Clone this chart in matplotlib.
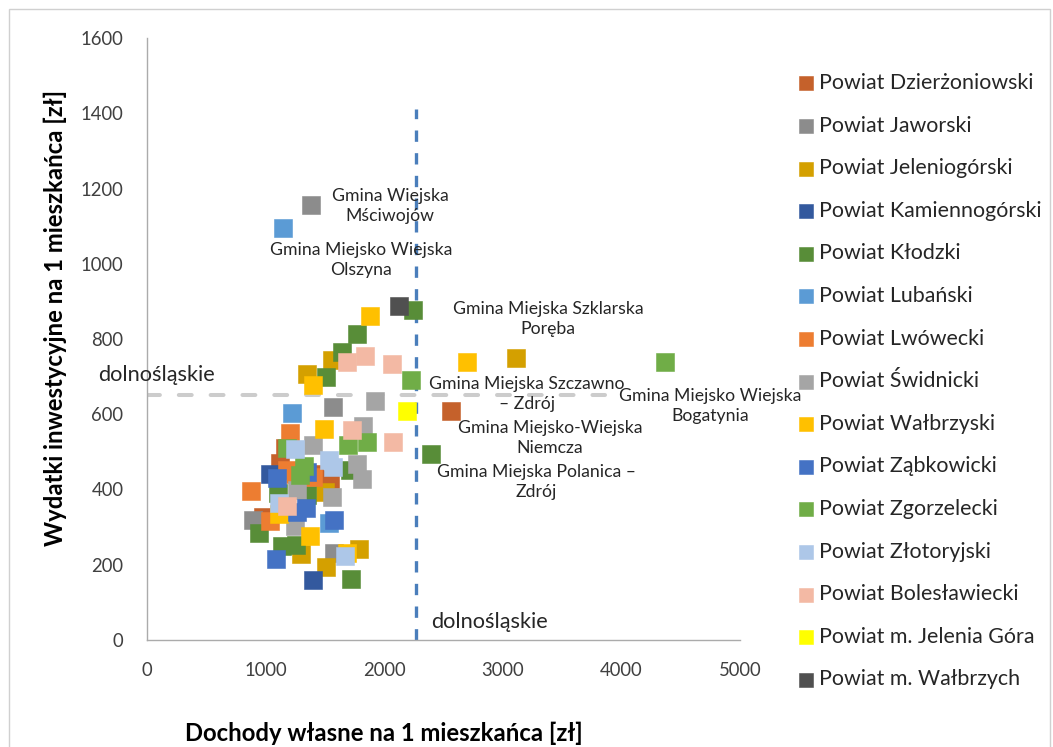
import matplotlib
matplotlib.use("Agg")
import matplotlib.pyplot as plt
from matplotlib.patches import Rectangle

plt.rcParams["font.family"] = ["Lato", "DejaVu Sans"]

# ---------------- data ----------------
series_names = ["Powiat Dzierżoniowski", "Powiat Jaworski", "Powiat Jeleniogórski",
                "Powiat Kamiennogórski", "Powiat Kłodzki", "Powiat Lubański",
                "Powiat Lwówecki", "Powiat Świdnicki", "Powiat Wałbrzyski",
                "Powiat Ząbkowicki", "Powiat Zgorzelecki", "Powiat Złotoryjski",
                "Powiat Bolesławiecki", "Powiat m. Jelenia Góra", "Powiat m. Wałbrzych"]
colors = ["#C5612B", "#8C8C8C", "#D4A000", "#33599E", "#588D38", "#5B9BD5",
          "#ED7D31", "#A5A5A5", "#FFC000", "#4472C4", "#70AD47", "#ADC7E8",
          "#F3B9A4", "#FFFF00", "#505050"]

dzierzoniowski_x = [2563, 1164, 1543, 1121, 981, 1410]
dzierzoniowski_y = [609, 509, 427, 470, 328, 440]
jaworski_x = [1383, 1566, 897, 1579]
jaworski_y = [1156, 620, 319, 232]
jeleniogorski_x = [1557, 1352, 3111, 1501, 1296, 1790, 1513]
jeleniogorski_y = [744, 707, 750, 394, 229, 241, 195]
kamiennogorski_x = [1037, 1402]
kamiennogorski_y = [441, 159]
klodzki_x = [2243, 1771, 1641, 1506, 2395, 1712, 1107, 1346, 947, 1135, 1256, 1717]
klodzki_y = [877, 813, 766, 700, 494, 453, 390, 385, 285, 250, 252, 161]
lubanski_x = [1147, 1220, 1535]
lubanski_y = [1095, 604, 312]
lwowecki_x = [1206, 1177, 1402, 874, 1037, 1250]
lwowecki_y = [549, 453, 434, 396, 317, 440]
swidnicki_x = [1922, 1825, 1397, 1767, 1815, 1262, 1557, 1248]
swidnicki_y = [635, 569, 518, 468, 428, 400, 379, 303]
walbrzyski_x = [1880, 1402, 2695, 1492, 1116, 1374, 1689]
walbrzyski_y = [861, 678, 740, 561, 335, 276, 232]
zabkowicki_x = [1093, 1346, 1340, 1262, 1577, 1088]
zabkowicki_y = [430, 447, 352, 339, 320, 215]
zgorzelecki_x = [2226, 4367, 1852, 1691, 1177, 1324, 1290]
zgorzelecki_y = [691, 739, 525, 518, 509, 462, 438]
zlotoryjski_x = [1248, 1537, 1571, 1116, 1669]
zlotoryjski_y = [507, 478, 459, 365, 224]
boleslawiecki_x = [1689, 1838, 2063, 1731, 2077, 1183]
boleslawiecki_y = [740, 755, 734, 558, 527, 355]
jelenia_gora_x = [2192]
jelenia_gora_y = [609]
walbrzych_x = [2125]
walbrzych_y = [888]

xs = [dzierzoniowski_x, jaworski_x, jeleniogorski_x, kamiennogorski_x, klodzki_x,
      lubanski_x, lwowecki_x, swidnicki_x, walbrzyski_x, zabkowicki_x,
      zgorzelecki_x, zlotoryjski_x, boleslawiecki_x, jelenia_gora_x, walbrzych_x]
ys = [dzierzoniowski_y, jaworski_y, jeleniogorski_y, kamiennogorski_y, klodzki_y,
      lubanski_y, lwowecki_y, swidnicki_y, walbrzyski_y, zabkowicki_y,
      zgorzelecki_y, zlotoryjski_y, boleslawiecki_y, jelenia_gora_y, walbrzych_y]

avg_income = 2268      # dolnośląskie average own income
avg_invest = 651       # dolnośląskie average investment spending

annotations = [
    ("Gmina Wiejska\nMściwojów", 2049, 1153),
    ("Gmina Miejsko Wiejska\nOlszyna", 1804, 1011),
    ("Gmina Miejska Szklarska\nPoręba", 3381, 852),
    ("Gmina Miejska Szczawno\n– Zdrój", 3204, 654),
    ("Gmina Miejsko Wiejska\nBogatynia", 4750, 622),
    ("Gmina Miejsko-Wiejska\nNiemcza", 3398, 537),
    ("Gmina Miejska Polanica –\nZdrój", 3285, 420),
]

x_ticks = [0, 1000, 2000, 3000, 4000, 5000]
y_ticks = [0, 200, 400, 600, 800, 1000, 1200, 1400, 1600]

x_title = "Dochody własne na 1 mieszkańca [zł]"
y_title = "Wydatki inwestycyjne na 1 mieszkańca [zł]"

# ---------------- figure ----------------
W, H = 1053, 747
fig = plt.figure(figsize=(W / 100, H / 100), dpi=100)
fig.patch.set_facecolor("white")
renderer = fig.canvas.get_renderer()


def fit_size(txt, target_px, **kw):
    t = fig.text(0, 0, txt, fontsize=10, **kw)
    w = t.get_window_extent(renderer).width
    t.remove()
    return 10 * target_px / w


ann_fs = fit_size("Gmina Miejsko Wiejska", 182)
dol_fs = fit_size("dolnośląskie", 117)
tick_fs = fit_size("1600", 43)
title_fs = fit_size(x_title, 397, fontweight="bold")
leg_fs = fit_size("Powiat Dzierżoniowski", 214)

fig.patches.append(Rectangle((9 / W, -0.05), (W - 12) / W, 1.05 - 9 / H,
                             transform=fig.transFigure, fill=False,
                             edgecolor="#D0D0D0", linewidth=1.0))

ax = fig.add_axes([147 / W, 1 - 640 / H, (740 - 147) / W, (640 - 38) / H])
ax.set_xlim(0, 5000)
ax.set_ylim(0, 1600)

# reference lines
ax.plot([0, 3862], [avg_invest, avg_invest], color="#CCCCCC", lw=2.9,
        dashes=(3.2, 4.7), dash_capstyle="round", zorder=1)
ax.plot([avg_income, avg_income], [0, 1410], color="#4A7EBB", lw=2.4,
        dashes=(3.4, 3.4), zorder=1)

for name, c, x, y in zip(series_names, colors, xs, ys):
    ax.scatter(x, y, s=150, marker="s", color=c, edgecolors=c, linewidths=0.4,
               label=name, zorder=3)

for txt, x, y in annotations:
    ax.text(x, y, txt, ha="center", va="center", fontsize=ann_fs, color="#262626",
            linespacing=1.3, zorder=4, clip_on=False)

ax.text(80, 704, "dolnośląskie", ha="center", va="center", fontsize=dol_fs,
        color="#262626", clip_on=False)
ax.text(2888, 49, "dolnośląskie", ha="center", va="center", fontsize=dol_fs,
        color="#262626")

ax.set_xticks(x_ticks)
ax.set_yticks(y_ticks)
ax.tick_params(length=0, labelsize=tick_fs, colors="#404040")
ax.tick_params(axis="y", pad=17)
ax.tick_params(axis="x", pad=16)
for s in ["top", "right"]:
    ax.spines[s].set_visible(False)
for s in ["left", "bottom"]:
    ax.spines[s].set_color("#ABABAB")
    ax.spines[s].set_linewidth(1.0)

fig.text(55 / W, 1 - 318 / H, y_title, rotation=90, ha="center", va="center",
         fontsize=title_fs, fontweight="bold", color="#000000")
fig.text(384 / W, 1 - 733 / H, x_title, ha="center", va="center",
         fontsize=title_fs, fontweight="bold", color="#000000")

# legend: place, then measure and correct spacing / position
leg_kw = dict(loc="upper left", frameon=False, fontsize=leg_fs, markerscale=0.88,
              handletextpad=0.15, handlelength=0.9, borderaxespad=0, borderpad=0)
ls = 1.2
x0, y0 = 795 / W, 1 - 70 / H
leg = fig.legend(bbox_to_anchor=(x0, y0), labelspacing=ls, **leg_kw)
fig.canvas.draw()
ex = [t.get_window_extent(renderer) for t in leg.get_texts()]
step = (ex[0].y0 - ex[-1].y0) / (len(ex) - 1)
fs_px = leg_fs * 100 / 72
ls = ls + (42.6 - step) / fs_px
leg.remove()
leg = fig.legend(bbox_to_anchor=(x0, y0), labelspacing=ls, **leg_kw)
fig.canvas.draw()
e0 = leg.get_texts()[0].get_window_extent(renderer)
cy = H - (e0.y0 + e0.y1) / 2
dx = 819 - e0.x0
dy = cy - 83
leg.remove()
leg = fig.legend(bbox_to_anchor=(x0 + dx / W, y0 + dy / H), labelspacing=ls, **leg_kw)
for t in leg.get_texts():
    t.set_color("#262626")

fig.savefig("out.png", dpi=100)
